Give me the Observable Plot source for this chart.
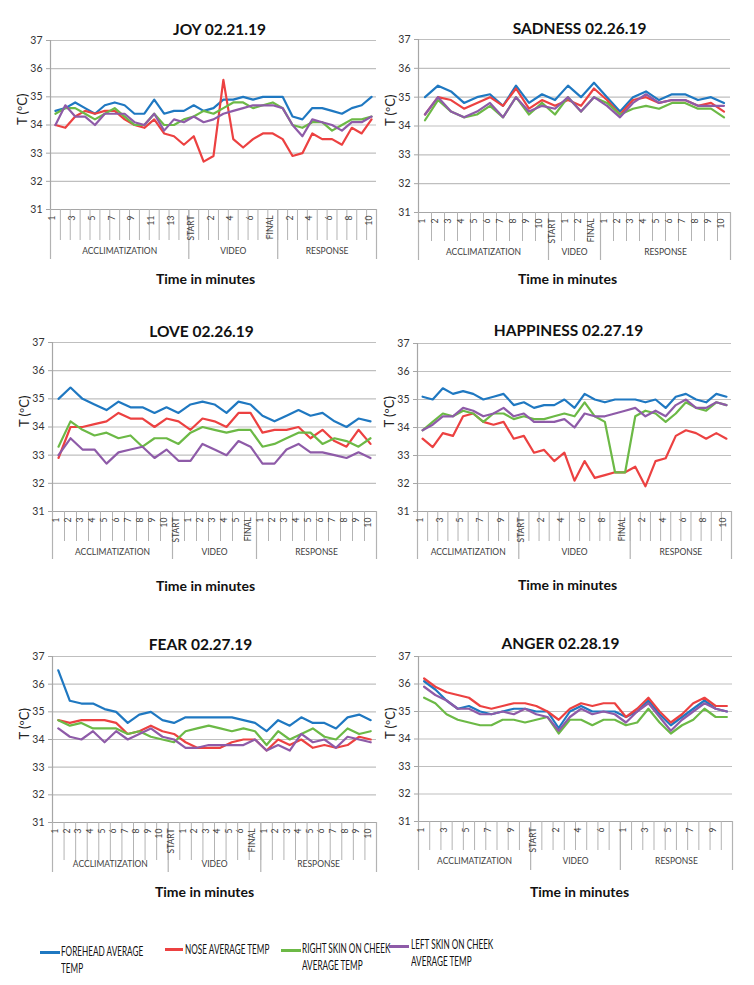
<!DOCTYPE html>
<html><head><meta charset="utf-8">
<script src="https://cdn.jsdelivr.net/npm/d3@7"></script>
<script src="https://cdn.jsdelivr.net/npm/@observablehq/plot@0.6"></script>
<style>
body{margin:0;background:#fff;}
#root{position:relative;width:754px;height:985px;background:#fff;overflow:hidden;font-family:Lato,sans-serif;}
.panel{position:absolute;}
.leg{position:absolute;font-family:Lato,sans-serif;font-size:13px;line-height:16.5px;color:#111;transform-origin:0 0;transform:scaleX(0.63);white-space:nowrap;}
.sw{position:absolute;height:3px;}
</style></head><body><div id="root"></div>
<script>
// ---------- shared ----------
const seriesNames = ["FOREHEAD AVERAGE TEMP", "NOSE AVERAGE TEMP", "RIGHT SKIN ON CHEEK AVERAGE TEMP", "LEFT SKIN ON CHEEK AVERAGE TEMP"];
const seriesColors = ["#1f78c1", "#ec4141", "#6cb946", "#8e5ba8"];
const groupNames = ["ACCLIMATIZATION", "VIDEO", "RESPONSE"];
const yTicks = [31, 32, 33, 34, 35, 36, 37];
const response10 = ["1","2","3","4","5","6","7","8","9","10"];
const acclim10 = ["1","2","3","4","5","6","7","8","9","10"];

// ---------- JOY 02.21.19 ----------
const joyAcclim = ["1","2","3","4","5","6","7","8","9","10","11","12","13","14"];
const joyVideo = ["START","1","2","3","4","5","6","7","FINAL"];
const joyResponse = response10;
const joyForehead = [34.5,34.6,34.8,34.6,34.4,34.7,34.8,34.7,34.4,34.4,34.9,34.4,34.5,34.5, 34.7,34.5,34.6,34.9,34.9,35.0,34.9,35.0,35.0, 35.0,34.3,34.2,34.6,34.6,34.5,34.4,34.6,34.7,35.0];
const joyNose = [34.0,33.9,34.3,34.5,34.4,34.5,34.5,34.2,34.0,33.9,34.2,33.7,33.6,33.3, 33.6,32.7,32.9,35.6,33.5,33.2,33.5,33.7,33.7, 33.5,32.9,33.0,33.7,33.5,33.5,33.3,33.9,33.7,34.2];
const joyRight = [34.4,34.6,34.6,34.4,34.2,34.4,34.6,34.3,34.0,34.0,34.4,34.0,34.0,34.2, 34.3,34.5,34.4,34.6,34.8,34.8,34.6,34.7,34.8, 34.6,34.0,33.9,34.1,34.1,33.8,34.0,34.2,34.2,34.3];
const joyLeft = [34.0,34.7,34.3,34.3,34.0,34.4,34.4,34.4,34.1,34.0,34.4,33.8,34.2,34.1, 34.3,34.1,34.2,34.4,34.5,34.6,34.7,34.7,34.7, 34.6,34.0,33.6,34.2,34.1,34.0,33.8,34.1,34.1,34.3];

// ---------- SADNESS 02.26.19 ----------
const sadAcclim = acclim10;
const sadVideo = ["START","1","2","FINAL"];
const sadResponse = response10;
const sadForehead = [35.0,35.4,35.2,34.8,35.0,35.1,34.7,35.4,34.8,35.1, 34.9,35.4,35.0,35.5, 35.0,34.5,35.0,35.2,34.9,35.1,35.1,34.9,35.0,34.8];
const sadNose = [34.4,35.0,34.9,34.6,34.8,35.0,34.7,35.3,34.6,34.9, 34.7,34.9,34.7,35.3, 34.9,34.4,34.9,35.0,34.8,34.9,34.9,34.7,34.8,34.5];
const sadRight = [34.2,34.9,34.5,34.3,34.4,34.7,34.3,35.0,34.4,34.8, 34.4,35.0,34.5,35.0, 34.8,34.4,34.6,34.7,34.6,34.8,34.8,34.6,34.6,34.3];
const sadLeft = [34.4,35.0,34.5,34.3,34.5,34.8,34.3,35.0,34.5,34.7, 34.6,35.0,34.5,35.0, 34.7,34.3,34.8,35.1,34.8,34.9,34.9,34.7,34.7,34.7];

// ---------- LOVE 02.26.19 ----------
const loveAcclim = acclim10;
const loveVideo = ["START","1","2","3","4","5","FINAL"];
const loveResponse = response10;
const loveForehead = [35.0,35.4,35.0,34.8,34.6,34.9,34.7,34.7,34.5,34.7, 34.5,34.8,34.9,34.8,34.5,34.9,34.8, 34.4,34.2,34.4,34.6,34.4,34.5,34.2,34.0,34.3,34.2];
const loveNose = [32.9,34.0,34.0,34.1,34.2,34.5,34.3,34.3,34.0,34.3, 34.2,33.9,34.3,34.2,34.0,34.5,34.5, 33.8,33.9,33.9,34.0,33.6,33.9,33.5,33.3,33.9,33.4];
const loveRight = [33.3,34.2,33.9,33.7,33.8,33.6,33.7,33.3,33.6,33.6, 33.4,33.8,34.0,33.9,33.8,33.9,33.9, 33.3,33.4,33.6,33.8,33.8,33.4,33.6,33.5,33.3,33.6];
const loveLeft = [33.0,33.6,33.2,33.2,32.7,33.1,33.2,33.3,32.9,33.2, 32.8,32.8,33.4,33.2,33.0,33.5,33.3, 32.7,32.7,33.2,33.4,33.1,33.1,33.0,32.9,33.1,32.9];

// ---------- HAPPINESS 02.27.19 ----------
const hapAcclim = acclim10;
const hapVideo = ["START","1","2","3","4","5","6","7","8","9","FINAL"];
const hapResponse = response10;
const hapForehead = [35.1,35.0,35.4,35.2,35.3,35.2,35.0,35.1,35.2,34.8, 34.9,34.7,34.8,34.8,35.0,34.7,35.2,35.0,34.9,35.0,35.0, 35.0,34.9,35.0,34.7,35.1,35.2,35.0,34.9,35.2,35.1];
const hapNose = [33.6,33.3,33.8,33.7,34.4,34.5,34.2,34.1,34.2,33.6, 33.7,33.1,33.2,32.8,33.1,32.1,32.8,32.2,32.3,32.4,32.4, 32.6,31.9,32.8,32.9,33.7,33.9,33.8,33.6,33.8,33.6];
const hapRight = [33.9,34.2,34.5,34.4,34.6,34.5,34.2,34.5,34.5,34.3, 34.4,34.3,34.3,34.4,34.5,34.4,34.9,34.4,34.2,32.4,32.4, 34.4,34.6,34.5,34.2,34.5,34.9,34.7,34.6,34.9,34.8];
const hapLeft = [33.9,34.1,34.4,34.4,34.7,34.6,34.4,34.5,34.7,34.4, 34.5,34.2,34.2,34.2,34.3,34.0,34.5,34.4,34.4,34.5,34.6, 34.7,34.4,34.6,34.4,34.8,35.0,34.7,34.7,34.9,34.8];

// ---------- FEAR 02.27.19 ----------
const fearAcclim = acclim10;
const fearVideo = ["START","1","2","3","4","5","6","FINAL"];
const fearResponse = response10;
const fearForehead = [36.5,35.4,35.3,35.3,35.1,35.0,34.6,34.9,35.0,34.7, 34.6,34.8,34.8,34.8,34.8,34.8,34.7,34.6, 34.3,34.7,34.5,34.8,34.6,34.6,34.4,34.8,34.9,34.7];
const fearNose = [34.7,34.6,34.7,34.7,34.7,34.6,34.2,34.3,34.5,34.3, 34.2,33.9,33.7,33.7,33.7,33.9,34.0,34.0, 33.6,34.0,33.8,34.0,33.7,33.8,33.7,33.8,34.1,34.0];
const fearRight = [34.7,34.5,34.6,34.4,34.4,34.4,34.2,34.3,34.1,34.0, 33.9,34.3,34.4,34.5,34.4,34.3,34.4,34.3, 33.8,34.3,34.0,34.2,34.4,34.1,34.0,34.4,34.2,34.3];
const fearLeft = [34.4,34.1,34.0,34.3,33.9,34.3,34.0,34.2,34.4,34.1, 34.0,33.7,33.7,33.8,33.8,33.8,33.8,34.0, 33.6,33.8,33.6,34.2,33.9,34.0,33.7,34.1,34.0,33.9];

// ---------- ANGER 02.28.19 ----------
const angAcclim = acclim10;
const angVideo = ["START","1","2","3","4","5","6","FINAL"];
const angResponse = response10;
const angForehead = [36.1,35.8,35.4,35.1,35.2,35.0,34.9,35.0,35.1,35.1, 35.0,35.0,34.4,35.0,35.2,35.0,35.0,35.0, 34.8,35.0,35.4,34.9,34.5,34.8,35.1,35.4,35.1,35.0];
const angNose = [36.2,35.9,35.7,35.6,35.5,35.2,35.1,35.2,35.3,35.3, 35.2,35.0,34.7,35.1,35.3,35.2,35.3,35.3, 34.8,35.1,35.5,35.0,34.6,34.9,35.3,35.5,35.2,35.2];
const angRight = [35.5,35.3,34.9,34.7,34.6,34.5,34.5,34.7,34.7,34.6, 34.7,34.8,34.2,34.7,34.7,34.5,34.7,34.7, 34.5,34.6,35.1,34.6,34.2,34.5,34.7,35.1,34.8,34.8];
const angLeft = [35.9,35.6,35.4,35.1,35.1,34.9,34.9,35.0,34.9,35.1, 34.9,34.8,34.3,34.8,35.1,34.9,35.0,34.9, 34.6,35.0,35.3,34.8,34.3,34.7,35.0,35.3,35.1,35.0];

// ---------- panel layout (style only) ----------
const panels = [
  {title:"JOY 02.21.19", acc:joyAcclim, vid:joyVideo, res:joyResponse, series:[joyForehead,joyNose,joyRight,joyLeft],
   left:0, top:0, L:{ml:50, mr:1, mt:40, ph:169, band:31, grp:50, gdy:44, tdx:6, tdy:-17, xdy:74, xdx:-8, step:2}},
  {title:"SADNESS 02.26.19", acc:sadAcclim, vid:sadVideo, res:sadResponse, series:[sadForehead,sadNose,sadRight,sadLeft],
   left:377, top:0, L:{ml:41, mr:24, mt:39, ph:173, band:29, grp:48, gdy:42, tdx:5, tdy:-17, xdy:71, xdx:-7, step:1}},
  {title:"LOVE 02.26.19", acc:loveAcclim, vid:loveVideo, res:loveResponse, series:[loveForehead,loveNose,loveRight,loveLeft],
   left:0, top:302, L:{ml:52, mr:1, mt:40, ph:169, band:30, grp:48, gdy:43, tdx:-13, tdy:-17, xdy:79, xdx:-9, step:1}},
  {title:"HAPPINESS 02.27.19", acc:hapAcclim, vid:hapVideo, res:hapResponse, series:[hapForehead,hapNose,hapRight,hapLeft],
   left:377, top:302, L:{ml:40, mr:23, mt:41, ph:168, band:30, grp:48, gdy:43, tdx:-6, tdy:-19, xdy:78, xdx:-7, step:2}},
  {title:"FEAR 02.27.19", acc:fearAcclim, vid:fearVideo, res:fearResponse, series:[fearForehead,fearNose,fearRight,fearLeft],
   left:0, top:616, L:{ml:52, mr:1, mt:40, ph:166, band:38, grp:50, gdy:44, tdx:-14, tdy:-18, xdy:74, xdx:-10, step:1}},
  {title:"ANGER 02.28.19", acc:angAcclim, vid:angVideo, res:angResponse, series:[angForehead,angNose,angRight,angLeft],
   left:377, top:616, L:{ml:41, mr:22, mt:40, ph:165, band:29, grp:49, gdy:42, tdx:-15, tdy:-19, xdy:75, xdx:4, step:2}}
];

const gridColor = "#bfbfbf", axisColor = "#a6a6a6", sepColor = "#b3b3b3", labColor = "#404040";

function makePanel(cfg) {
  const L = cfg.L;
  const cats = [...cfg.acc, ...cfg.vid, ...cfg.res];
  const n = cats.length;
  const b1 = cfg.acc.length, b2 = b1 + cfg.vid.length;
  const bounds = [0, b1, b2, n];
  const groupData = groupNames.map((g, k) => ({g, x: (bounds[k] + bounds[k + 1]) / 2}));
  const catData = cats.map((c, i) => ({c, i})).filter(d => d.i % L.step === 0);
  const rows = [];
  cfg.series.forEach((vals, k) => vals.forEach((v, i) => rows.push({i, v, key: seriesNames[k]})));
  const H = L.mt + L.ph + 100;
  return Plot.plot({
    width: 377, height: H,
    marginLeft: L.ml, marginRight: L.mr, marginTop: L.mt, marginBottom: H - L.mt - L.ph,
    x: {domain: [0, n], axis: null},
    y: {domain: [31, 37], axis: null},
    color: {domain: seriesNames, range: seriesColors},
    style: {fontFamily: "Lato, sans-serif", background: "transparent", overflow: "visible"},
    marks: [
      Plot.gridY(yTicks, {stroke: gridColor, strokeOpacity: 1, strokeWidth: 1.2}),
      Plot.ruleY([31], {stroke: axisColor, strokeWidth: 1.2}),
      Plot.ruleX([0], {stroke: axisColor, strokeWidth: 1.2}),
      Plot.ruleX(d3.range(n + 1), {insetTop: L.ph, insetBottom: -L.band, stroke: sepColor}),
      Plot.ruleX(bounds, {insetTop: L.ph, insetBottom: -L.grp, stroke: sepColor, strokeWidth: 1.2}),
      Plot.axisY(yTicks, {tickSize: 4, tickPadding: 4, fontSize: 10.5, stroke: axisColor, fill: "#333", label: null}),
      Plot.line(rows, {x: d => d.i + 0.5, y: "v", z: "key", stroke: "key", strokeWidth: 2.2}),
      Plot.text(catData, {x: d => d.i + 0.5, text: "c", frameAnchor: "bottom", dy: 6, rotate: -90, textAnchor: "end", fontSize: 8.5, fill: labColor}),
      Plot.text(groupData, {x: "x", text: "g", frameAnchor: "bottom", dy: L.gdy, fontSize: 8.5, fill: labColor}),
      Plot.text([cfg.title], {text: d => d, frameAnchor: "top", dy: L.tdy, dx: L.tdx, fontSize: 15.5, fontWeight: "bold", fill: "#111"}),
      Plot.text(["Time in minutes"], {text: d => d, frameAnchor: "bottom", dy: L.xdy, dx: L.xdx, fontSize: 14, fontWeight: "bold", fill: "#111"}),
      Plot.text(["T (ºC)"], {text: d => d, frameAnchor: "left", dx: -28, rotate: -90, fontSize: 13, fill: "#222"})
    ]
  });
}

const root = document.getElementById("root");
panels.forEach(p => {
  const div = document.createElement("div");
  div.className = "panel";
  div.style.left = p.left + "px";
  div.style.top = p.top + "px";
  div.appendChild(makePanel(p));
  root.appendChild(div);
});

// ---------- legend (below the charts) ----------
const legendLines = [
  ["FOREHEAD AVERAGE", "TEMP"],
  ["NOSE AVERAGE TEMP"],
  ["RIGHT SKIN ON CHEEK", "AVERAGE TEMP"],
  ["LEFT SKIN ON CHEEK", "AVERAGE TEMP"]
];
const legendPos = [
  {sx: 40, sw: 20, sy: 951, tx: 61, ty: 943},
  {sx: 165, sw: 18, sy: 948, tx: 185, ty: 941},
  {sx: 281, sw: 20, sy: 949, tx: 302, ty: 940},
  {sx: 389, sw: 20, sy: 945, tx: 411, ty: 936}
];
seriesNames.forEach((name, k) => {
  const pos = legendPos[k];
  const sw = document.createElement("div");
  sw.className = "sw";
  sw.style.left = pos.sx + "px";
  sw.style.top = pos.sy + "px";
  sw.style.width = pos.sw + "px";
  sw.style.background = seriesColors[k];
  root.appendChild(sw);
  const t = document.createElement("div");
  t.className = "leg";
  t.style.left = pos.tx + "px";
  t.style.top = pos.ty + "px";
  t.innerHTML = legendLines[k].join("<br>");
  root.appendChild(t);
});
</script></body></html>
